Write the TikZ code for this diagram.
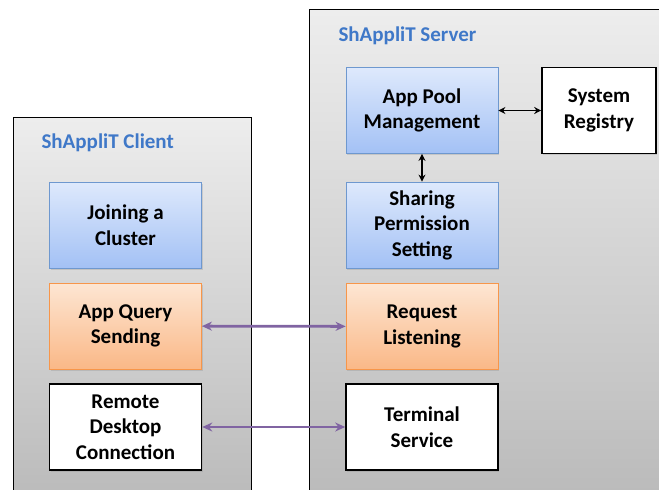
\documentclass[tikz,border=0pt]{standalone}
\usepackage{fontspec}
\setmainfont{Carlito}
\usepackage{xcolor}
\usetikzlibrary{arrows.meta,positioning,shadows}
\definecolor{titleblue}{HTML}{3F78C8}
\definecolor{blueedge}{HTML}{6E98CF}
\definecolor{bluetop}{HTML}{DEE9FC}
\definecolor{bluebottom}{HTML}{A3C1F5}
\definecolor{orangeedge}{HTML}{F7964A}
\definecolor{orangetop}{HTML}{FDE6D3}
\definecolor{orangebottom}{HTML}{FAB887}
\definecolor{linkpurple}{HTML}{8064A2}

\begin{document}
\begin{tikzpicture}[x=1pt,y=-1pt,
  font=\fontsize{21}{25.5}\selectfont\bfseries,
  panel/.style={draw=black,line width=0.8pt,top color=black!7,bottom color=black!27},
  box/.style={minimum width=152pt,minimum height=86pt,align=center,
    drop shadow={opacity=0.25,shadow xshift=1pt,shadow yshift=-1.5pt}},
  bluebox/.style={box,draw=blueedge,line width=0.8pt,top color=bluetop,bottom color=bluebottom},
  orangebox/.style={box,draw=orangeedge,line width=0.8pt,top color=orangetop,bottom color=orangebottom},
  plainbox/.style={box,draw=black,line width=1.6pt,fill=white},
  title/.style={text=titleblue,font=\fontsize{21}{25}\selectfont\bfseries,anchor=west},
  link/.style={{Stealth[length=10pt,width=9pt]}-{Stealth[length=10pt,width=9pt]},linkpurple,line width=2.8pt},
  inner/.style={{Stealth[length=7pt,width=7pt]}-{Stealth[length=7pt,width=7pt]},black,line width=1.7pt}]
  \useasboundingbox (0,0) rectangle (659,490);

  % the two panels
  \path[panel] (13,117) rectangle (251,500);
  \path[panel] (309,9) rectangle (670,500);
  \node[title] (clienttitle) at (38,143) {ShAppliT Client};
  \node[title] (servertitle) at (335,36) {ShAppliT Server};

  % client side
  \node[bluebox] (join) at (125.5,225) {Joining a\\Cluster};
  \node[orangebox] (query) at (125.5,326) {App Query\\Sending};
  \node[plainbox] (remote) at (125.5,427) {Remote\\Desktop\\Connection};

  % server side
  \node[bluebox] (pool) at (422,110.5) {App Pool\\Management};
  \node[plainbox,minimum width=114pt] (registry) at (599,110.5) {System\\Registry};
  \node[bluebox] (sharing) at (422,225) {Sharing\\Permission\\Setting};
  \node[orangebox] (listen) at (422,326.5) {Request\\Listening};
  \node[plainbox] (terminal) at (422,427) {Terminal\\Service};

  \draw[inner] (pool) -- (registry);
  \draw[inner] (pool) -- (sharing);
  \draw[link] (query) -- (listen);
  \draw[link] (remote) -- (terminal);
\end{tikzpicture}
\end{document}
